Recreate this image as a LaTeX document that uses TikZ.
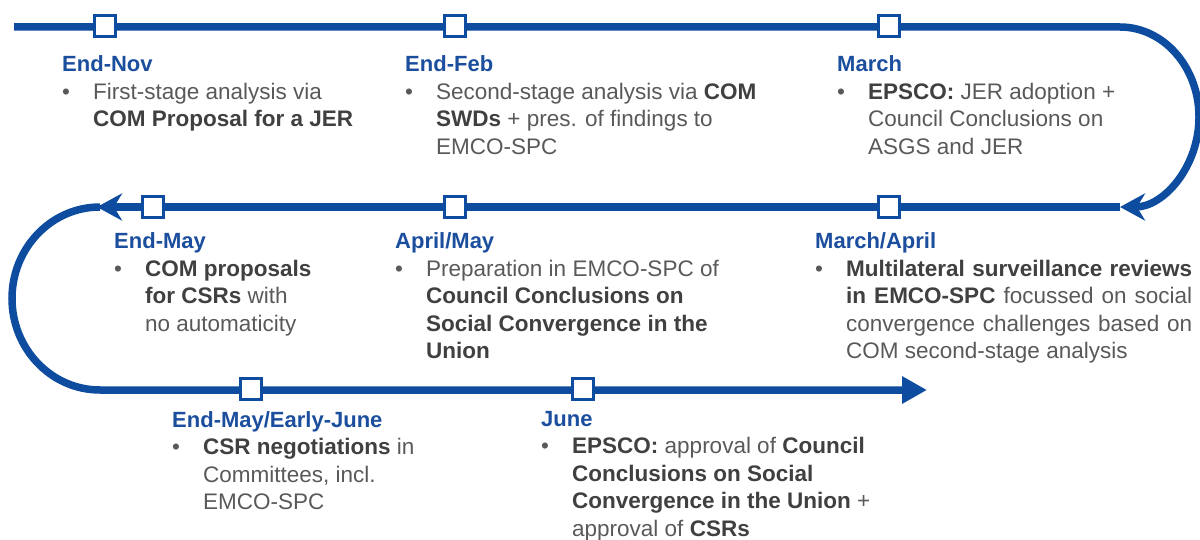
\documentclass[tikz,border=0pt]{standalone}
\usepackage{fontspec}
\setmainfont{Liberation Sans}
\usetikzlibrary{arrows.meta}
\definecolor{lineblue}{RGB}{14,76,160}
\definecolor{headblue}{RGB}{28,78,158}
\definecolor{txtgray}{RGB}{89,89,89}
\definecolor{boldgray}{RGB}{64,64,64}
\newcommand{\bb}[1]{{\bfseries\color{boldgray}#1}}
\newcommand{\jl}[1]{\makebox[346pt][s]{#1}}
\newcommand{\tlblock}[2]{\begin{tabular}[t]{@{}p{31pt}@{}l@{}}\multicolumn{2}{@{}l@{}}{\fontsize{22pt}{27.5pt}\selectfont\color{headblue}\bfseries #1}\\ \textbullet & #2\end{tabular}}
\begin{document}
\begin{tikzpicture}[x=1pt,y=-1pt,
  tl/.style={draw=lineblue,line width=7.5pt},
  mk/.style={draw=lineblue,fill=white,line width=3.5pt,minimum size=21pt,inner sep=0pt},
  blk/.style={anchor=base west,inner sep=0pt,text=txtgray,font=\fontsize{22.5pt}{27.5pt}\selectfont},
  stl/.style={-{Stealth[length=25pt,width=27pt,inset=8pt]}},
  tri/.style={-{Triangle[length=25pt,width=26pt]}}]
\useasboundingbox (0,0) rectangle (1200,540);
% path points
\coordinate (a0) at (14,27);
\coordinate (a1) at (1120,27);
\coordinate (b0) at (1120,207);
\coordinate (b1) at (97,207);
\coordinate (c0) at (100,207);
\coordinate (c2) at (927,390);
% timeline
\draw[tl,tri] (c0) arc[start angle=-90,end angle=-270,x radius=88,y radius=91.5] -- (c2);
\draw[tl,stl] (a0) -- (a1) arc[start angle=-90,end angle=90,x radius=79,y radius=90];
\draw[tl,stl] (b0) -- (b1);
% markers
\node[mk] (m1) at (105,26) {};
\node[mk] (m2) at (455,26) {};
\node[mk] (m3) at (889,26) {};
\node[mk] (m4) at (153,207) {};
\node[mk] (m5) at (455,207) {};
\node[mk] (m6) at (889,207) {};
\node[mk] (m7) at (251,389) {};
\node[mk] (m8) at (583,389) {};
% text blocks
\node[blk] (t1) at (62,72) {\tlblock{End-Nov}{First-stage analysis via\\ & \bb{COM Proposal for a JER}}};
\node[blk] (t2) at (405,72) {\tlblock{End-Feb}{Second-stage analysis via \bb{COM}\\ & \bb{SWDs} + pres. of findings to\\ & EMCO-SPC}};
\node[blk] (t3) at (837,72) {\tlblock{March}{\bb{EPSCO:} JER adoption +\\ & Council Conclusions on\\ & ASGS and JER}};
\node[blk] (t4) at (114,249) {\tlblock{End-May}{\bb{COM proposals}\\ & \bb{for CSRs} with\\ & no automaticity}};
\node[blk] (t5) at (395,249) {\tlblock{April/May}{Preparation in EMCO-SPC of\\ & \bb{Council Conclusions on}\\ & \bb{Social Convergence in the}\\ & \bb{Union}}};
\node[blk] (t6) at (815,249) {\tlblock{March/April}{\jl{\bb{Multilateral surveillance reviews}}\\ & \jl{\bb{in EMCO-SPC} focussed on social}\\ & \jl{convergence challenges based on}\\ & COM second-stage analysis}};
\node[blk] (t7) at (172,427) {\tlblock{End-May/Early-June}{\bb{CSR negotiations} in\\ & Committees, incl.\\ & EMCO-SPC}};
\node[blk] (t8) at (541,426) {\tlblock{June}{\bb{EPSCO:} approval of \bb{Council}\\ & \bb{Conclusions on Social}\\ & \bb{Convergence in the Union} +\\ & approval of \bb{CSRs}}};
\end{tikzpicture}
\end{document}
